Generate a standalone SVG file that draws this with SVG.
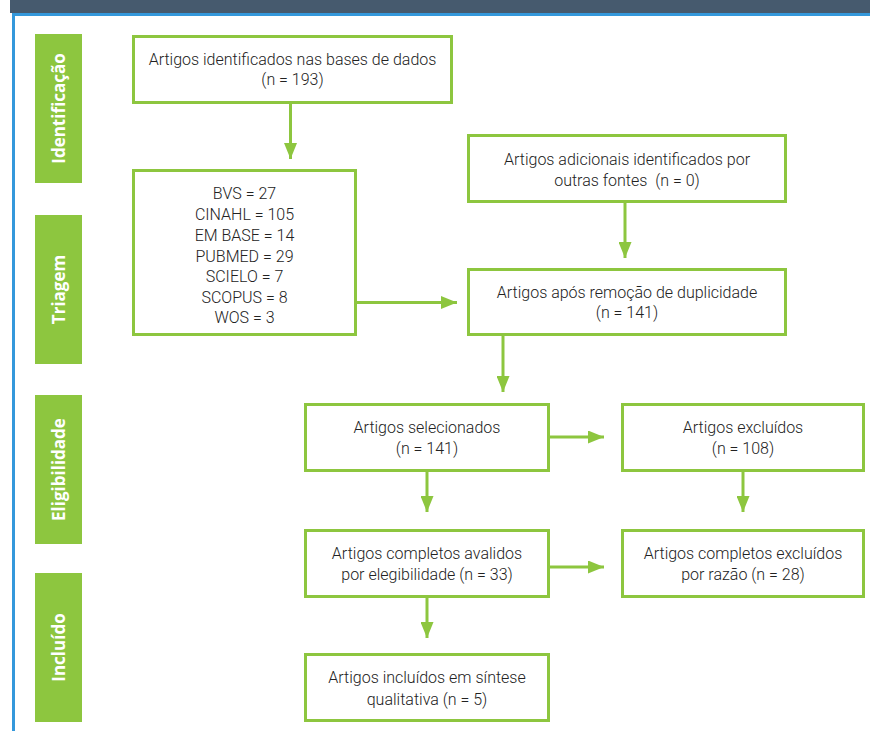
<svg xmlns="http://www.w3.org/2000/svg" width="870" height="731" viewBox="0 0 870 731">
<defs>
<marker id="ah" markerUnits="userSpaceOnUse" markerWidth="16" markerHeight="13" refX="16" refY="6.5" orient="auto">
<path d="M0,0 L16,6.5 L0,13 z" fill="#8dc63f"/>
</marker>
<style>
.box{fill:#fff;stroke:#8dc63f;stroke-width:3}
.lab{fill:#8dc63f}
.lt{font-family:"Open Sans","DejaVu Sans",sans-serif;font-weight:bold;font-size:17px;fill:#fff;text-anchor:middle}
.t{font-family:Roboto,"Liberation Sans",sans-serif;font-weight:300;font-size:16px;fill:#222;text-anchor:middle}
.c{fill:none;stroke:#8dc63f;stroke-width:3;marker-end:url(#ah)}
</style>
</defs>
<rect x="0" y="0" width="870" height="731" fill="#fff"/>
<rect x="10" y="0" width="860" height="13" fill="#465a6e"/>
<rect x="12" y="13" width="858" height="3" fill="#3498db"/>
<rect x="12" y="13" width="3" height="718" fill="#3498db"/>

<g id="stage-identificacao"><rect class="lab" x="35" y="34" width="47" height="149"/><text class="lt" transform="translate(64.5,108.5) rotate(-90)">Identificação</text></g>
<g id="stage-triagem"><rect class="lab" x="35" y="215" width="47" height="149"/><text class="lt" transform="translate(64.5,289.5) rotate(-90)">Triagem</text></g>
<g id="stage-eligibilidade"><rect class="lab" x="35" y="395" width="47" height="149"/><text class="lt" transform="translate(64.5,469.5) rotate(-90)">Eligibilidade</text></g>
<g id="stage-incluido"><rect class="lab" x="35" y="573" width="47" height="149"/><text class="lt" transform="translate(64.5,647.5) rotate(-90)">Incluído</text></g>

<g id="connectors">
<line class="c" x1="290.5" y1="104" x2="290.5" y2="159"/>
<line class="c" x1="357" y1="302.5" x2="457" y2="302.5"/>
<line class="c" x1="625" y1="203" x2="625" y2="258"/>
<line class="c" x1="503" y1="335" x2="503" y2="392"/>
<line class="c" x1="549" y1="437" x2="604" y2="437"/>
<line class="c" x1="427" y1="471" x2="427" y2="512"/>
<line class="c" x1="743" y1="471" x2="743" y2="512"/>
<line class="c" x1="549" y1="567" x2="604" y2="567"/>
<line class="c" x1="427" y1="597" x2="427" y2="638"/>
</g>

<g id="n-identificados"><rect class="box" x="133.5" y="36.5" width="318" height="66"/><text class="t" x="292.5" y="65">Artigos identificados nas bases de dados</text><text class="t" x="292.5" y="85">(n = 193)</text></g>
<g id="n-bases"><rect class="box" x="133.5" y="170.5" width="222" height="164"/>
<text class="t" x="244.5" y="199">BVS = 27</text>
<text class="t" x="244.5" y="220">CINAHL = 105</text>
<text class="t" x="244.5" y="241">EM BASE = 14</text>
<text class="t" x="244.5" y="262">PUBMED = 29</text>
<text class="t" x="244.5" y="282">SCIELO = 7</text>
<text class="t" x="244.5" y="303">SCOPUS = 8</text>
<text class="t" x="244.5" y="323">WOS = 3</text></g>
<g id="n-adicionais"><rect class="box" x="468.5" y="135.5" width="317" height="66"/><text class="t" x="627" y="165">Artigos adicionais identificados por</text><text class="t" x="627" y="186" xml:space="preserve">outras fontes  (n = 0)</text></g>
<g id="n-duplicidade"><rect class="box" x="468.5" y="269.5" width="317" height="65"/><text class="t" x="627" y="298">Artigos após remoção de duplicidade</text><text class="t" x="627" y="318">(n = 141)</text></g>
<g id="n-selecionados"><rect class="box" x="305.5" y="404.5" width="243" height="66"/><text class="t" x="427" y="433">Artigos selecionados</text><text class="t" x="427" y="454">(n = 141)</text></g>
<g id="n-excluidos"><rect class="box" x="622.5" y="404.5" width="241" height="66"/><text class="t" x="743" y="433">Artigos excluídos</text><text class="t" x="743" y="454">(n = 108)</text></g>
<g id="n-completos"><rect class="box" x="305.5" y="530.5" width="243" height="66"/><text class="t" x="427" y="559">Artigos completos avalidos</text><text class="t" x="427" y="580">por elegibilidade (n = 33)</text></g>
<g id="n-completos-excluidos"><rect class="box" x="622.5" y="530.5" width="241" height="66"/><text class="t" x="743" y="559">Artigos completos excluídos</text><text class="t" x="743" y="580">por razão (n = 28)</text></g>
<g id="n-incluidos"><rect class="box" x="305.5" y="654.5" width="243" height="66"/><text class="t" x="427" y="683">Artigos incluídos em síntese</text><text class="t" x="427" y="705">qualitativa (n = 5)</text></g>
</svg>
